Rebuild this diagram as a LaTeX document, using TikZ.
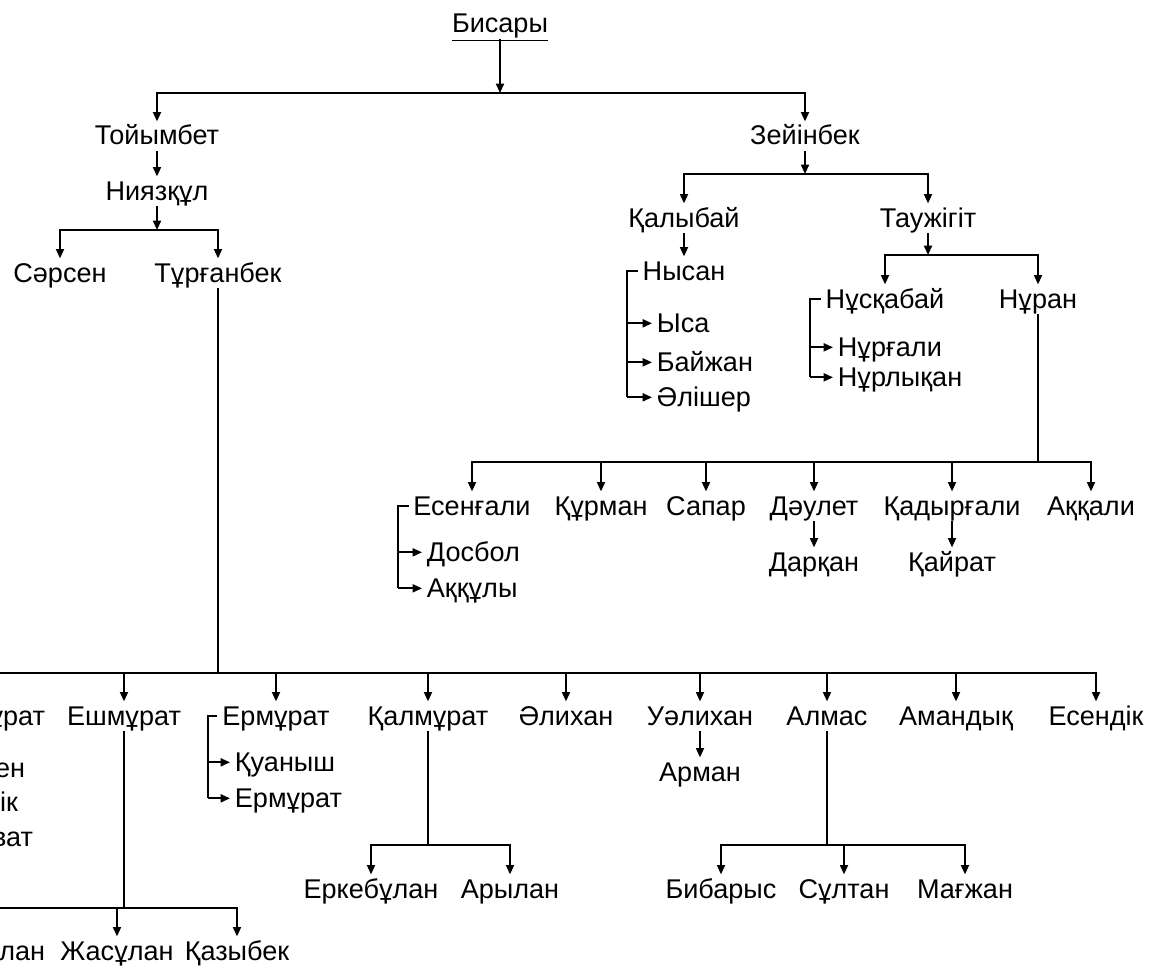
\documentclass[tikz,border=0pt]{standalone}
\usepackage{fontspec}
\setmainfont{Liberation Sans}
\usetikzlibrary{arrows.meta}
\begin{document}
\begin{tikzpicture}[x=0.75pt,y=-0.75pt,
  lbl/.style={font=\fontsize{20.3}{23}\selectfont, inner xsep=3.5pt, inner ysep=3pt,
    text height=14.5pt, text depth=1.5pt, anchor=base},
  sub/.style={lbl, anchor=base west},
  frag/.style={lbl, anchor=base east},
  ln/.style={line width=1.3pt},
  arr/.style={ln, -{Triangle[length=7pt,width=6pt]}}]
\useasboundingbox (0,0) rectangle (1152,970);
\clip (0,0) rectangle (1152,970);
% nodes
\node[lbl] (bis) at (500,33) {\underline{Бисары}};
\node[lbl] (toj) at (157,145) {Тойымбет};
\node[lbl] (zey) at (805,145) {Зейінбек};
\node[lbl] (niy) at (157,200) {Ниязқұл};
\node[lbl] (sar) at (60,282) {Сәрсен};
\node[lbl] (tur) at (218,282) {Тұрғанбек};
\node[lbl] (kal) at (684,227) {Қалыбай};
\node[lbl] (tau) at (928,227) {Таужігіт};
\node[lbl] (nys) at (684,280) {Нысан};
\node[sub] (ysa) at (652,332) {Ыса};
\node[sub] (bay) at (652,371) {Байжан};
\node[sub] (ali) at (652,406) {Әлішер};
\node[lbl] (nus) at (885,308) {Нұсқабай};
\node[lbl] (nur) at (1038,308) {Нұран};
\node[sub] (nrg) at (833,356) {Нұрғали};
\node[sub] (nrl) at (833,386) {Нұрлықан};
\node[lbl] (esg) at (472,515) {Есенғали};
\node[lbl] (kur) at (601,515) {Құрман};
\node[lbl] (sap) at (706,515) {Сапар};
\node[lbl] (dau) at (814,515) {Дәулет};
\node[lbl] (kad) at (952,515) {Қадырғали};
\node[lbl] (akk) at (1091,515) {Аққали};
\node[sub] (dos) at (422,561) {Досбол};
\node[sub] (akq) at (422,597) {Аққұлы};
\node[lbl] (dar) at (814,571) {Дарқан};
\node[lbl] (kay) at (952,571) {Қайрат};
\node[frag] (fr1) at (50,725) {ұрат};
\node[lbl] (esh) at (124,725) {Ешмұрат};
\node[lbl] (erm) at (276,725) {Ермұрат};
\node[lbl] (klm) at (428,725) {Қалмұрат};
\node[lbl] (alh) at (566,725) {Әлихан};
\node[lbl] (ual) at (700,725) {Уәлихан};
\node[lbl] (alm) at (827,725) {Алмас};
\node[lbl] (amd) at (956,725) {Амандық};
\node[lbl] (esd) at (1096,725) {Есендік};
\node[sub] (kua) at (230,771) {Қуаныш};
\node[sub] (erm2) at (230,807) {Ермұрат};
\node[lbl] (arm) at (700,781) {Арман};
\node[frag] (fr2) at (30,777) {ен};
\node[frag] (fr3) at (23,811) {ік};
\node[frag] (fr4) at (38,846) {ват};
\node[lbl] (erk) at (371,898) {Еркебұлан};
\node[lbl] (ary) at (510,898) {Арылан};
\node[lbl] (bib) at (721,898) {Бибарыс};
\node[lbl] (sul) at (844,898) {Сұлтан};
\node[lbl] (mag) at (965,898) {Мағжан};
\node[frag] (fr5) at (50,960) {лан};
\node[lbl] (jas) at (117,960) {Жасұлан};
\node[lbl] (kaz) at (237,960) {Қазыбек};
% junctions
\coordinate (b0) at (500,93);
\coordinate (b1) at (157,230);
\coordinate (b2) at (805,174);
\coordinate (b3) at (928,255);
\coordinate (b4) at (1038,462);
\coordinate (b5) at (218,673);
\coordinate (b5l) at (-20,673);
\coordinate (b6) at (124,908);
\coordinate (b6l) at (-20,908);
\coordinate (b7) at (428,845);
\coordinate (b8) at (827,845);
\coordinate (c1) at (627,397);
\coordinate (c2) at (810,377);
\coordinate (c3) at (398,588);
\coordinate (c4) at (208,798);
% connectors
\draw[arr] (bis.south) -- (b0);
\draw[arr] (b0) -| (toj.north);
\draw[arr] (b0) -| (zey.north);
\draw[arr] (toj.south) -- (niy.north);
\draw[arr] (niy.south) -- (b1);
\draw[arr] (b1) -| (sar.north);
\draw[arr] (b1) -| (tur.north);
\draw[arr] (zey.south) -- (b2);
\draw[arr] (b2) -| (kal.north);
\draw[arr] (b2) -| (tau.north);
\draw[arr] (kal.south) -- (nys.north);
\draw[ln] (nys.west) -| (c1);
\foreach \n in {ysa,bay,ali} \draw[arr] (c1 |- \n.west) -- (\n.west);
\draw[arr] (tau.south) -- (b3);
\draw[arr] (b3) -| (nus.north);
\draw[arr] (b3) -| (nur.north);
\draw[ln] (nus.west) -| (c2);
\foreach \n in {nrg,nrl} \draw[arr] (c2 |- \n.west) -- (\n.west);
\draw[ln] (nur.south) -- (b4);
\foreach \n in {esg,kur,sap,dau,kad,akk} \draw[arr] (b4) -| (\n.north);
\draw[ln] (esg.west) -| (c3);
\foreach \n in {dos,akq} \draw[arr] (c3 |- \n.west) -- (\n.west);
\draw[arr] (dau.south) -- (dar.north);
\draw[arr] (kad.south) -- (kay.north);
\draw[ln] (tur.south) -- (b5);
\draw[ln] (b5) -- (b5l);
\foreach \n in {esh,erm,klm,alh,ual,alm,amd,esd} \draw[arr] (b5) -| (\n.north);
\draw[ln] (erm.west) -| (c4);
\foreach \n in {kua,erm2} \draw[arr] (c4 |- \n.west) -- (\n.west);
\draw[arr] (ual.south) -- (arm.north);
\draw[ln] (esh.south) -- (b6);
\draw[ln] (b6) -- (b6l);
\draw[arr] (b6) -| (jas.north);
\draw[arr] (b6) -| (kaz.north);
\draw[ln] (klm.south) -- (b7);
\draw[arr] (b7) -| (erk.north);
\draw[arr] (b7) -| (ary.north);
\draw[ln] (alm.south) -- (b8);
\foreach \n in {bib,sul,mag} \draw[arr] (b8) -| (\n.north);
\end{tikzpicture}
\end{document}
